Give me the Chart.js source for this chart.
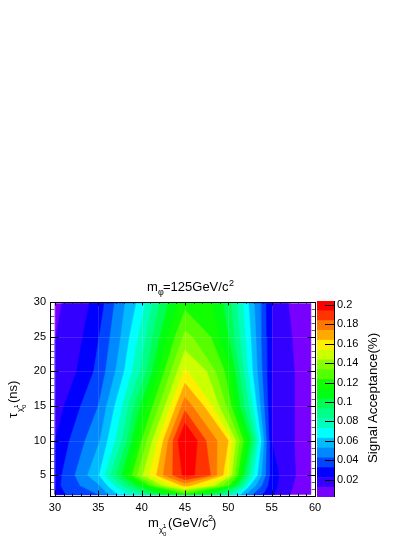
<!DOCTYPE html>
<html>
<head>
<meta charset="utf-8">
<title>Signal acceptance</title>
<script src="https://cdn.jsdelivr.net/npm/chart.js@4/dist/chart.umd.min.js"></script>
<style>
    html, body { margin: 0; padding: 0; background: #fff; width: 415px; height: 537px; overflow: hidden; }
    canvas { position: absolute; left: 0; top: 0; }
    .lbl { position: absolute; font-family: "Liberation Sans", sans-serif; color: #000; white-space: nowrap; line-height: 1; }
    .lbl span { position: absolute; white-space: nowrap; }
</style>
</head>
<body>
<canvas id="contour" width="415" height="537"></canvas>
<canvas id="palette" width="415" height="537"></canvas>

<div class="lbl" style="left:147px;top:280px;width:100px;height:18px;font-size:13px">
    <span style="left:0;top:0">m</span><span style="left:11px;top:8px;font-size:9px">φ</span>
    <span style="left:16px;top:0">=125GeV/c</span><span style="left:82px;top:-1px;font-size:9px">2</span>
</div>
<div class="lbl" style="left:148px;top:516px;width:100px;height:20px;font-size:13px">
    <span style="left:0;top:0">m</span><span style="left:11px;top:10px;font-size:8px">χ̃</span>
    <span style="left:15px;top:7px;font-size:6px">1</span><span style="left:15px;top:15px;font-size:6px">0</span>
    <span style="left:20px;top:0">(GeV/c</span><span style="left:60px;top:-2px;font-size:9px">2</span>
    <span style="left:64px;top:0">)</span>
</div>
<div class="lbl" style="left:6px;top:418px;width:40px;height:24px;font-size:13px;transform-origin:0 0;transform:rotate(-90deg)">
    <span style="left:0;top:0">τ</span><span style="left:6px;top:10px;font-size:8px">χ̃</span>
    <span style="left:10px;top:7px;font-size:6px">1</span><span style="left:10px;top:15px;font-size:6px">0</span>
    <span style="left:15px;top:0">(ns)</span>
</div>
<div class="lbl" style="left:366px;top:463px;font-size:13.3px;transform-origin:0 0;transform:rotate(-90deg)">Signal Acceptance(%)</div>

<script>
// grid
const massColumns = [30, 32.5, 35, 37.5, 40, 42.5, 45, 47.5, 50, 52.5, 55, 57.5, 59.5];
const tauRows = [2.2, 3.5, 5, 10, 15, 20, 25, 29.8];

const acceptTau2 = [0.029, 0.0358, 0.0424, 0.065, 0.083, 0.105, 0.117, 0.105, 0.085, 0.045, 0.024, 0.010, 0.005];
const acceptTau3 = [0.029, 0.041, 0.050, 0.080, 0.110, 0.145, 0.167, 0.155, 0.125, 0.062, 0.026, 0.012, 0.005];
const acceptTau5 = [0.027, 0.0437, 0.061, 0.0997, 0.1414, 0.1737, 0.197, 0.190, 0.155, 0.0812, 0.027, 0.013, 0.006];
const acceptTau10 = [0.0222, 0.0373, 0.0503, 0.079, 0.123, 0.1636, 0.208, 0.183, 0.1636, 0.105, 0.0222, 0.0125, 0.005];
const acceptTau15 = [0.0165, 0.030, 0.0424, 0.069, 0.1055, 0.140, 0.180, 0.161, 0.130, 0.080, 0.0222, 0.0125, 0.005];
const acceptTau20 = [0.0145, 0.0222, 0.035, 0.057, 0.085, 0.1215, 0.155, 0.1434, 0.119, 0.068, 0.022, 0.0125, 0.005];
const acceptTau25 = [0.0118, 0.0186, 0.0315, 0.0516, 0.0765, 0.108, 0.136, 0.128, 0.103, 0.064, 0.0215, 0.0115, 0.006];
const acceptTau30 = [0.010, 0.0165, 0.0262, 0.048, 0.0675, 0.098, 0.120, 0.118, 0.098, 0.060, 0.0222, 0.009, 0.007];
const acceptance = [acceptTau2, acceptTau3, acceptTau5, acceptTau10, acceptTau15, acceptTau20, acceptTau25, acceptTau30];

const levels = [0.002, 0.0121, 0.0222, 0.0323, 0.0424, 0.0525, 0.0626, 0.0727, 0.0828, 0.0929,
    0.103, 0.1131, 0.1232, 0.1333, 0.1434, 0.1535, 0.1636, 0.1737, 0.1838, 0.1939, 0.204];
const bandColors = ['#7700ff', '#3300ff', '#0000ff', '#0044ff', '#0088ff', '#00bbff', '#00ffff',
    '#00ffbb', '#00ff88', '#00ff55', '#00ff11', '#11ff00', '#55ff00', '#88ff00', '#ccff00',
    '#ffee00', '#ffaa00', '#ff7700', '#ff3300', '#ff0000'];

const xTickLabels = [30, 35, 40, 45, 50, 55, 60];
const yTickLabels = [5, 10, 15, 20, 25, 30];
const paletteTicks = [0.02, 0.04, 0.06, 0.08, 0.1, 0.12, 0.14, 0.16, 0.18, 0.2];

function crossing(a, b, za, zb, level) {
    return a + (level - za) / (zb - za) * (b - a);
}

// left and right edge of the region above a level on one row
function rowEdges(z, level) {
    const last = z.length - 1;
    let i = z.findIndex(v => v >= level);
    if (i < 0) return null;
    let j = last;
    while (z[j] < level) j--;
    return {
        left: i === 0 ? massColumns[0] : crossing(massColumns[i - 1], massColumns[i], z[i - 1], z[i], level),
        right: j === last ? massColumns[last] : crossing(massColumns[j], massColumns[j + 1], z[j], z[j + 1], level),
        leftOpen: i === 0,
        rightOpen: j === last
    };
}

// outline of the region above a level, walked up the left side and down the right
function levelPolygon(level) {
    const peak = massColumns.indexOf(45);
    const lefts = [], rights = [];
    let prev = null;
    acceptance.forEach((z, r) => {
        const e = rowEdges(z, level);
        if (!e) {
            if (prev) {
                const t = crossing(tauRows[r - 1], tauRows[r], acceptance[r - 1][peak], z[peak], level);
                lefts.push({ x: 45, y: t });
            }
            prev = null;
            return;
        }
        if (!prev && r > 0) {
            const t = crossing(tauRows[r - 1], tauRows[r], acceptance[r - 1][peak], z[peak], level);
            lefts.push({ x: 45, y: t });
        }
        if (prev && prev.leftOpen !== e.leftOpen) {
            lefts.push({ x: massColumns[0], y: crossing(tauRows[r - 1], tauRows[r], acceptance[r - 1][0], z[0], level) });
        }
        if (prev && prev.rightOpen !== e.rightOpen) {
            const n = z.length - 1;
            rights.push({ x: massColumns[n], y: crossing(tauRows[r - 1], tauRows[r], acceptance[r - 1][n], z[n], level) });
        }
        lefts.push({ x: e.left, y: tauRows[r] });
        rights.push({ x: e.right, y: tauRows[r] });
        prev = e;
    });
    const pts = lefts.concat(rights.reverse());
    pts.push(pts[0]);
    return pts;
}

// ROOT style ticks pointing into the frame
const frameTicks = {
    id: 'frameTicks',
    afterDatasetsDraw(chart) {
        const { ctx, chartArea: a, scales: { x, y } } = chart;
        ctx.save();
        ctx.lineWidth = 1;
        const line = (x1, y1, x2, y2) => {
            ctx.beginPath();
            ctx.moveTo(Math.round(x1) + 0.5, Math.round(y1) + 0.5);
            ctx.lineTo(Math.round(x2) + 0.5, Math.round(y2) + 0.5);
            ctx.stroke();
        };
        // faint lines seen across the colours
        ctx.strokeStyle = 'rgba(255,255,255,0.12)';
        xTickLabels.forEach(v => line(x.getPixelForValue(v), a.top, x.getPixelForValue(v), a.bottom));
        yTickLabels.forEach(v => line(a.left, y.getPixelForValue(v), a.right, y.getPixelForValue(v)));

        ctx.strokeStyle = '#000';
        for (let v = 30; v <= 60; v++) {
            const px = x.getPixelForValue(v);
            const len = v % 5 === 0 ? 6 : 3;
            line(px, a.bottom, px, a.bottom - len);
            line(px, a.top, px, a.top + (v % 5 === 0 ? 3 : 1));
        }
        for (let v = 2; v <= 30; v++) {
            const py = y.getPixelForValue(v);
            const len = v % 5 === 0 ? 8 : 4;
            ctx.strokeStyle = v % 5 === 0 ? '#000' : '#666';
            line(a.left, py, a.left + len, py);
            line(a.right, py, a.right - len, py);
        }
        ctx.strokeStyle = '#000';
        ctx.strokeRect(a.left + 0.5, a.top + 0.5, a.right - a.left, a.bottom - a.top);
        ctx.restore();
    }
};

const paletteTickMarks = {
    id: 'paletteTickMarks',
    afterDatasetsDraw(chart) {
        const { ctx, chartArea: a, scales: { y } } = chart;
        ctx.save();
        ctx.strokeStyle = '#000';
        ctx.lineWidth = 1;
        ctx.beginPath();
        ctx.moveTo(a.right + 0.5, a.top);
        ctx.lineTo(a.right + 0.5, a.bottom);
        paletteTicks.forEach(v => {
            const py = Math.round(y.getPixelForValue(v)) + 0.5;
            ctx.moveTo(a.right, py);
            ctx.lineTo(a.right - 9, py);
        });
        ctx.stroke();
        ctx.restore();
    }
};

const tickFont = { family: '"Liberation Sans", sans-serif', size: 11 };

new Chart(document.getElementById('contour'), {
    type: 'scatter',
    data: {
        datasets: bandColors.map((color, k) => ({
            label: String(levels[k]),
            data: levelPolygon(levels[k]),
            order: bandColors.length - k,
            showLine: true,
            fill: 'shape',
            backgroundColor: color,
            borderColor: color,
            borderWidth: 0.5,
            pointRadius: 0,
            tension: 0
        }))
    },
    plugins: [frameTicks],
    options: {
        responsive: false,
        animation: false,
        layout: { padding: { top: 302, right: 100, left: 0, bottom: 0 } },
        plugins: { legend: { display: false }, tooltip: { enabled: false } },
        scales: {
            x: {
                type: 'linear',
                min: 29.43,
                max: 60,
                afterBuildTicks: scale => { scale.ticks = xTickLabels.map(v => ({ value: v })); },
                afterFit: scale => { scale.height = 41; },
                grid: { display: false, drawTicks: false },
                border: { display: false },
                ticks: { color: '#000', font: tickFont, padding: 5, maxRotation: 0, autoSkip: false }
            },
            y: {
                type: 'linear',
                min: 2,
                max: 30,
                afterBuildTicks: scale => { scale.ticks = yTickLabels.map(v => ({ value: v })); },
                afterFit: scale => { scale.width = 50; },
                grid: { display: false, drawTicks: false },
                border: { display: false },
                ticks: { color: '#000', font: tickFont, padding: 4, autoSkip: false }
            }
        }
    }
});

new Chart(document.getElementById('palette'), {
    type: 'bar',
    data: {
        labels: ['z'],
        datasets: bandColors.map((color, k) => ({
            label: String(levels[k]),
            data: [[levels[k], levels[k + 1]]],
            backgroundColor: color,
            grouped: false,
            barPercentage: 1,
            categoryPercentage: 1
        }))
    },
    plugins: [paletteTickMarks],
    options: {
        responsive: false,
        animation: false,
        layout: { padding: { top: 301, right: 0, left: 317, bottom: 40 } },
        plugins: { legend: { display: false }, tooltip: { enabled: false } },
        scales: {
            x: { display: false },
            y: {
                position: 'right',
                min: 0.002,
                max: 0.204,
                afterBuildTicks: scale => { scale.ticks = paletteTicks.map(v => ({ value: v })); },
                afterFit: scale => { scale.width = 81; },
                grid: { display: false, drawTicks: false },
                border: { display: false },
                ticks: { color: '#000', font: tickFont, padding: 3, autoSkip: false, callback: v => String(v) }
            }
        }
    }
});
</script>
</body>
</html>
